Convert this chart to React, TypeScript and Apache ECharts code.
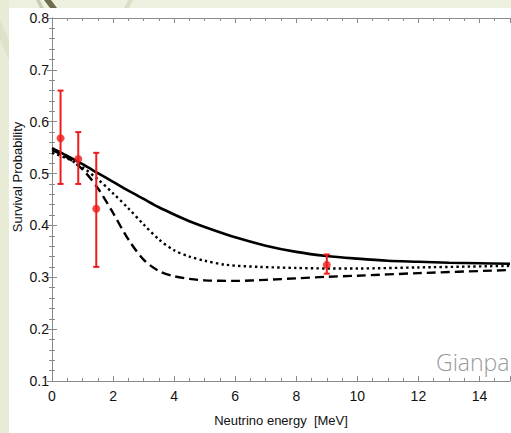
import React, { useEffect, useRef } from "react";
import * as echarts from "echarts";

// Curve samples (energy in MeV, survival probability)
const solidE = [0, 0.5, 1, 1.5, 2, 2.5, 3, 3.5, 4, 4.5, 5, 6, 7, 8, 9, 10, 11, 12, 13, 14, 15];
const solidP = [0.549, 0.534, 0.518, 0.501, 0.484, 0.467, 0.451, 0.435, 0.421, 0.408, 0.397, 0.377, 0.361, 0.349, 0.341, 0.336, 0.332, 0.33, 0.328, 0.327, 0.326];

const dottedE = [0, 0.5, 1, 1.5, 2, 2.5, 3, 3.5, 4, 4.5, 5, 5.7, 6.8, 8, 9, 10, 12, 15];
const dottedP = [0.54, 0.529, 0.512, 0.489, 0.462, 0.433, 0.402, 0.373, 0.352, 0.34, 0.332, 0.324, 0.32, 0.318, 0.317, 0.317, 0.319, 0.322];

const dashedE = [0, 0.5, 1, 1.5, 2, 2.5, 3, 3.5, 4, 4.5, 5, 6, 7, 8, 9, 10, 12, 15];
const dashedP = [0.545, 0.531, 0.508, 0.472, 0.424, 0.373, 0.334, 0.312, 0.302, 0.297, 0.294, 0.293, 0.295, 0.298, 0.301, 0.303, 0.308, 0.314];

// Measurements
const measE = [0.28, 0.86, 1.45, 9.0];
const measP = [0.568, 0.528, 0.432, 0.324];
const measLow = [0.48, 0.48, 0.32, 0.307];
const measHigh = [0.66, 0.58, 0.54, 0.344];

const xTicks = { min: 0, max: 15, interval: 2 };
const yTicks = { min: 0.1, max: 0.8, interval: 0.1 };

const xTitle = "Neutrino energy  [MeV]";
const yTitle = "Survival Probability";
const watermark = "Gianpa";

const AXIS = "#8a8a8a";
const RED = "#ee1c1c";

export default function App() {
  const ref = useRef<HTMLDivElement>(null);
  useEffect(() => {
    if (!ref.current) return;
    const chart = echarts.init(ref.current, undefined, { renderer: "svg" });
    const zip = (a: number[], b: number[]) => a.map((v, i) => [v, b[i]]);
    const baseAxisLine = { show: true, lineStyle: { color: AXIS, width: 1 } };
    const tickIn = { show: true, inside: true, length: 5, lineStyle: { color: AXIS, width: 1 } };
    const minorIn = (n: number) => ({ show: true, splitNumber: n, length: 3, lineStyle: { color: AXIS, width: 1 } });
    const font = "Liberation Sans, Arial, sans-serif";
    chart.setOption({
      animation: false,
      backgroundColor: "#e8ecd6",
      graphic: [
        { type: "rect", shape: { x: 9, y: 8, width: 510, height: 430 }, style: { fill: "#ffffff" }, z: -10 },
        { type: "rect", shape: { x: 9, y: 0, width: 510, height: 8 }, style: { fill: "#eef0e0" }, z: -10 },
        { type: "polygon", shape: { points: [[44, 0], [51, 0], [57, 8], [50, 8]] }, style: { fill: "#6e6c4c" }, z: -9 },
        { type: "polygon", shape: { points: [[36, 0], [40, 0], [44, 8], [40, 8]] }, style: { fill: "#c9ccb4" }, z: -9 },
        { type: "polygon", shape: { points: [[128, 0], [133, 0], [129, 8], [124, 8]] }, style: { fill: "#dadfc6" }, z: -9 },
        { type: "polygon", shape: { points: [[0, 20], [9, 40], [9, 60], [0, 40]] }, style: { fill: "#dde2c8" }, z: -9 },
        {
          type: "text",
          x: 17,
          y: 177,
          rotation: Math.PI / 2,
          style: { text: yTitle, fontSize: 13, fontFamily: font, fill: "#111", align: "center", verticalAlign: "middle" },
        },
        {
          type: "text",
          x: 436,
          y: 362,
          style: { text: watermark, fontSize: 23, fontWeight: 300, fontFamily: "Open Sans, sans-serif", fill: "#9a9a9a", verticalAlign: "middle" },
        },
      ],
      grid: { left: 52, top: 18, right: 1, bottom: 52, containLabel: false },
      xAxis: [
        {
          type: "value",
          position: "bottom",
          min: xTicks.min,
          max: xTicks.max,
          interval: xTicks.interval,
          axisLine: baseAxisLine,
          axisTick: tickIn,
          minorTick: minorIn(4),
          splitLine: { show: false },
          axisLabel: { fontSize: 14, color: "#111", fontFamily: font, margin: 8, showMaxLabel: false },
          name: xTitle,
          nameLocation: "middle",
          nameGap: 33,
          nameTextStyle: { fontSize: 13, color: "#111", fontFamily: font },
        },
        {
          type: "value",
          position: "top",
          min: xTicks.min,
          max: xTicks.max,
          interval: xTicks.interval,
          axisLine: baseAxisLine,
          axisTick: tickIn,
          minorTick: minorIn(4),
          splitLine: { show: false },
          axisLabel: { show: false },
        },
      ],
      yAxis: [
        {
          type: "value",
          position: "left",
          min: yTicks.min,
          max: yTicks.max,
          interval: yTicks.interval,
          axisLine: baseAxisLine,
          axisTick: tickIn,
          minorTick: minorIn(5),
          splitLine: { show: false },
          axisLabel: { fontSize: 14, color: "#111", fontFamily: font, margin: 3, formatter: (v: number) => v.toFixed(1) },
        },
        {
          type: "value",
          position: "right",
          min: yTicks.min,
          max: yTicks.max,
          interval: yTicks.interval,
          axisLine: baseAxisLine,
          axisTick: tickIn,
          minorTick: minorIn(5),
          splitLine: { show: false },
          axisLabel: { show: false },
        },
      ],
      series: [
        {
          type: "line",
          data: zip(solidE, solidP),
          smooth: 0.3,
          showSymbol: false,
          lineStyle: { color: "#000", width: 2.6, type: "solid" },
          z: 3,
        },
        {
          type: "line",
          data: zip(dottedE, dottedP),
          smooth: 0.3,
          showSymbol: false,
          lineStyle: { color: "#000", width: 2.4, type: [2.4, 3.2] },
          z: 3,
        },
        {
          type: "line",
          data: zip(dashedE, dashedP),
          smooth: 0.3,
          showSymbol: false,
          lineStyle: { color: "#000", width: 2.4, type: [9, 5] },
          z: 3,
        },
        {
          type: "custom",
          data: measE.map((e, i) => [e, measLow[i], measHigh[i]]),
          renderItem: (params: any, api: any) => {
            const lo = api.coord([api.value(0), api.value(1)]);
            const hi = api.coord([api.value(0), api.value(2)]);
            const w = 3;
            const st = { stroke: RED, lineWidth: 2 };
            return {
              type: "group",
              children: [
                { type: "line", shape: { x1: lo[0], y1: lo[1], x2: hi[0], y2: hi[1] }, style: st },
                { type: "line", shape: { x1: lo[0] - w, y1: lo[1], x2: lo[0] + w, y2: lo[1] }, style: st },
                { type: "line", shape: { x1: hi[0] - w, y1: hi[1], x2: hi[0] + w, y2: hi[1] }, style: st },
              ],
            };
          },
          z: 4,
        },
        {
          type: "scatter",
          data: zip(measE, measP),
          symbol: "circle",
          symbolSize: 8,
          itemStyle: { color: RED },
          z: 5,
        },
      ],
    });
    return () => chart.dispose();
  }, []);
  return <div ref={ref} style={{ position: "fixed", left: 0, top: 0, width: 511, height: 433 }} />;
}
